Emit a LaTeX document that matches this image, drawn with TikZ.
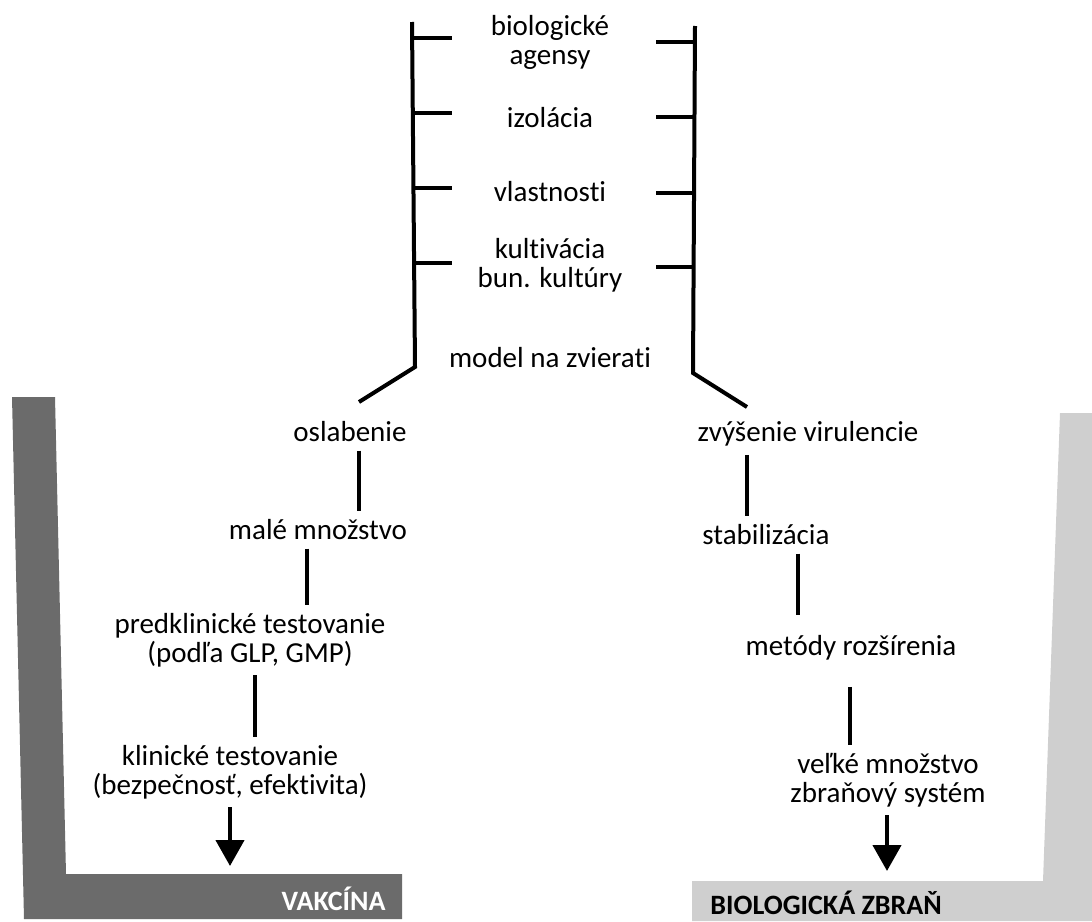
\documentclass[tikz,border=0pt]{standalone}
\usepackage{fontspec}
\setmainfont{Carlito}[Ligatures=NoCommon]
\usetikzlibrary{arrows.meta}
\definecolor{vakgray}{HTML}{6B6B6B}
\definecolor{zbrgray}{HTML}{CFCFCF}

\begin{document}
\begin{tikzpicture}[x=0.5pt,y=-0.5pt,
  lbl/.style={align=center,inner sep=0pt,font=\fontsize{14.5}{14.5}\selectfont},
  tag/.style={inner sep=0pt,font=\fontsize{14}{14}\selectfont\bfseries},
  rail/.style={line width=2pt},
  link/.style={line width=2.2pt,shorten <=4pt,shorten >=4pt},
  push/.style={line width=2.2pt,shorten <=4pt,-{Triangle[width=14pt,length=13pt]}}]

\useasboundingbox (0,0) rectangle (1092,921);

% the two gray corners
\fill[vakgray] (12,397) -- (55,397) -- (66,874) -- (402,874) -- (402,919) -- (24,919) -- cycle;

\fill[zbrgray] (1060,413) -- (1092,413) -- (1092,921) -- (692,921) -- (692,881) -- (1043,881) -- cycle;

\node[tag, text=white, anchor=base east] (vak) at (386,910) {VAKCÍNA};
\node[tag, anchor=base west] (zbr) at (710,914) {BIOLOGICKÁ ZBRAŇ};

% ladder
\coordinate (lt) at (412,22);
\coordinate (lb) at (415,367);
\coordinate (lf) at (359,402);
\coordinate (rt) at (695,26);
\coordinate (rb) at (693,373);
\coordinate (rf) at (747,407);

\draw[rail] (lt) -- (lb) -- (lf);
\draw[rail] (rt) -- (rb) -- (rf);

\draw[rail] (412,38) -- (452,38);
\draw[rail] (413,113) -- (452,113);
\draw[rail] (413,188) -- (452,188);
\draw[rail] (414,263) -- (452,263);

\draw[rail] (656,42) -- (695,42);
\draw[rail] (656,117) -- (694,117);
\draw[rail] (656,193) -- (694,193);
\draw[rail] (656,267) -- (694,267);

\node[lbl] (bio) at (550,42) {biologické\\agensy};
\node[lbl] (izo) at (550,118) {izolácia};
\node[lbl] (vla) at (550,192) {vlastnosti};
\node[lbl] (kul) at (550,265) {kultivácia\\bun. kultúry};
\node[lbl] (mod) at (550,358) {model na zvierati};

% left branch
\node[lbl] (osl) at (350,432) {oslabenie};
\node[lbl] (mal) at (318,530) {malé množstvo};
\node[lbl] (pre) at (250,640) {predklinické testovanie\\(podľa GLP, GMP)};
\node[lbl] (kli) at (230,772) {klinické testovanie\\(bezpečnosť, efektivita)};
\coordinate (vakin) at (230,866);

\draw[link] (osl.south -| 359,0) -- (mal.north -| 359,0);
\draw[link] (mal.south -| 307,0) -- (pre.north -| 307,0);
\draw[link] (pre.south -| 255,0) -- (kli.north -| 255,0);
\draw[push] (kli.south -| vakin) -- (vakin);

% right branch
\node[lbl] (zvy) at (808,434) {zvýšenie virulencie};
\node[lbl] (sta) at (766,535) {stabilizácia};
\node[lbl] (met) at (851,648) {metódy rozšírenia};
\node[lbl] (vel) at (888,780) {veľké množstvo\\zbraňový systém};
\coordinate (zbrin) at (887,871);

\draw[link] (zvy.south -| 747,0) -- (sta.north -| 747,0);
\draw[link, shorten >=10pt] (sta.south -| 798,0) -- (met.north -| 798,0);
\draw[link, shorten <=13pt] (met.south -| 850,0) -- (vel.north -| 850,0);
\draw[push] (vel.south -| zbrin) -- (zbrin);

\end{tikzpicture}
\end{document}
